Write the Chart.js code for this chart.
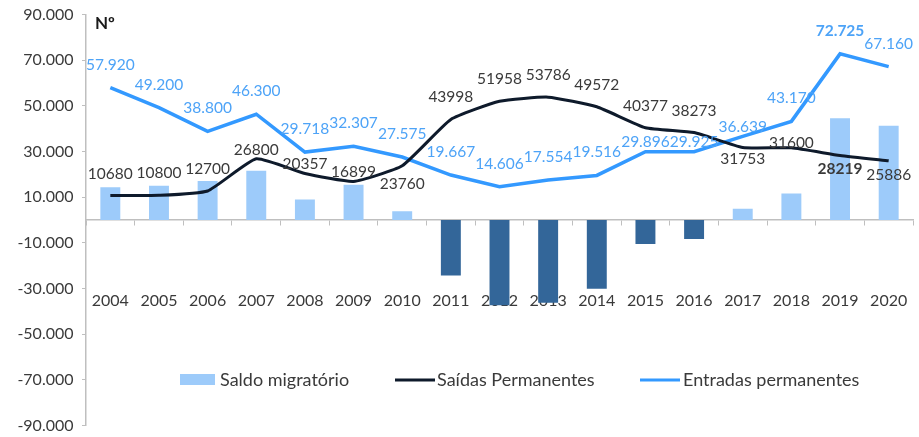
<!DOCTYPE html>
<html>
<head>
<meta charset="utf-8">
<script src="https://cdn.jsdelivr.net/npm/chart.js@4.4.1/dist/chart.umd.min.js"></script>
<style>
  body { margin: 0; background: #fff; }
</style>
</head>
<body>
<canvas id="chart" width="919" height="437"></canvas>
<script>
const years = ["2004", "2005", "2006", "2007", "2008", "2009", "2010", "2011", "2012",
  "2013", "2014", "2015", "2016", "2017", "2018", "2019", "2020"];
const saldoMigratorio = [14300, 15000, 17100, 21600, 9000, 15408, 3815, -24331, -37352,
  -36232, -30056, -10481, -8348, 4886, 11570, 44506, 41274];
const saidasPermanentes = [10680, 10800, 12700, 26800, 20357, 16899, 23760, 43998, 51958,
  53786, 49572, 40377, 38273, 31753, 31600, 28219, 25886];
const entradasPermanentes = [57920, 49200, 38800, 46300, 29718, 32307, 27575, 19667, 14606,
  17554, 19516, 29896, 29925, 36639, 43170, 72725, 67160];
const yMin = -90000, yMax = 90000, yStep = 20000;

// label placement (pixels relative to the point), styling only
const saidasDy = [-22, -22, -22, -9, -9, -9, 18, -22, -22, -22, -22, -22, -22, 12, -5, 13, 14];
const entradasDy = [-23, -23, -23, -23, -23, -23, -23, -23, -23, -23, -23, -10, -10, -9, -23, -23, -23];
const boldIdx = 15;

const FONT = "Lato, 'Open Sans', sans-serif";
const TXT = "#3a3a3a";
const LIGHT = "#9DCBFA";
const DARKBAR = "#336699";
const NAVY = "#0E1A2B";
const BLUE = "#3399FF";

function dots(v) {
  const s = String(Math.abs(v)).replace(/\B(?=(\d{3})+(?!\d))/g, ".");
  return (v < 0 ? "-" : "") + s;
}

const extras = {
  id: "extras",
  afterDatasetsDraw(chart) {
    const ctx = chart.ctx;
    ctx.save();
    ctx.textAlign = "center";
    ctx.textBaseline = "middle";
    // entradas labels
    chart.getDatasetMeta(2).data.forEach((pt, i) => {
      ctx.font = (i === boldIdx ? "bold " : "") + "15.5px " + FONT;
      ctx.fillStyle = "#4DA3F7";
      ctx.fillText(dots(entradasPermanentes[i]), pt.x, pt.y + entradasDy[i]);
    });
    // saidas labels
    chart.getDatasetMeta(1).data.forEach((pt, i) => {
      ctx.font = (i === boldIdx ? "bold " : "") + "15.5px " + FONT;
      ctx.fillStyle = TXT;
      ctx.fillText(String(saidasPermanentes[i]), pt.x, pt.y + saidasDy[i]);
    });
    // unit
    ctx.textAlign = "left";
    ctx.font = "bold 17px " + FONT;
    ctx.fillStyle = "#1a1a1a";
    ctx.fillText("Nº", 95, 24);
    // legend
    const ly = 380;
    ctx.font = "18px " + FONT;
    ctx.fillStyle = LIGHT;
    ctx.fillRect(180, ly - 6, 35, 11);
    ctx.fillStyle = TXT;
    ctx.fillText("Saldo migratório", 220, ly);
    ctx.lineWidth = 3;
    ctx.strokeStyle = NAVY;
    ctx.beginPath(); ctx.moveTo(395, ly); ctx.lineTo(435, ly); ctx.stroke();
    ctx.fillText("Saídas Permanentes", 437, ly);
    ctx.strokeStyle = BLUE;
    ctx.beginPath(); ctx.moveTo(640, ly); ctx.lineTo(680, ly); ctx.stroke();
    ctx.fillText("Entradas permanentes", 683, ly);
    ctx.restore();
  }
};

new Chart(document.getElementById("chart"), {
  data: {
    labels: years,
    datasets: [
      {
        type: "bar",
        label: "Saldo migratório",
        data: saldoMigratorio,
        backgroundColor: saldoMigratorio.map(v => v < 0 ? DARKBAR : LIGHT),
        barPercentage: 0.41,
        categoryPercentage: 1,
        order: 3
      },
      {
        type: "line",
        label: "Saídas Permanentes",
        data: saidasPermanentes,
        borderColor: NAVY,
        borderWidth: 3,
        pointRadius: 0,
        tension: 0.15,
        order: 1
      },
      {
        type: "line",
        label: "Entradas permanentes",
        data: entradasPermanentes,
        borderColor: BLUE,
        borderWidth: 3.5,
        pointRadius: 0,
        tension: 0,
        order: 2
      }
    ]
  },
  options: {
    responsive: false,
    animation: false,
    layout: { padding: { top: 14.4, right: 6, bottom: 11.4, left: 0 } },
    plugins: { legend: { display: false }, tooltip: { enabled: false } },
    scales: {
      x: {
        position: { y: 0 },
        afterFit(scale) { scale.paddingLeft = 0; scale.paddingRight = 0; },
        grid: { offset: true, drawOnChartArea: false, tickLength: 5, color: "#BFBFBF" },
        border: { color: "#BFBFBF", width: 1.5 },
        ticks: { padding: 66, color: TXT, font: { family: FONT, size: 16 }, maxRotation: 0 }
      },
      y: {
        min: yMin,
        max: yMax,
        afterFit(scale) { scale.width = 86; scale.paddingTop = 0; scale.paddingBottom = 0; },
        grid: { drawOnChartArea: false, tickLength: 4, color: "#BFBFBF" },
        border: { color: "#BFBFBF", width: 1.5 },
        ticks: {
          stepSize: yStep,
          padding: 8.5,
          color: TXT,
          font: { family: FONT, size: 16 },
          callback: v => dots(v)
        }
      }
    }
  },
  plugins: [extras]
});
</script>
</body>
</html>
